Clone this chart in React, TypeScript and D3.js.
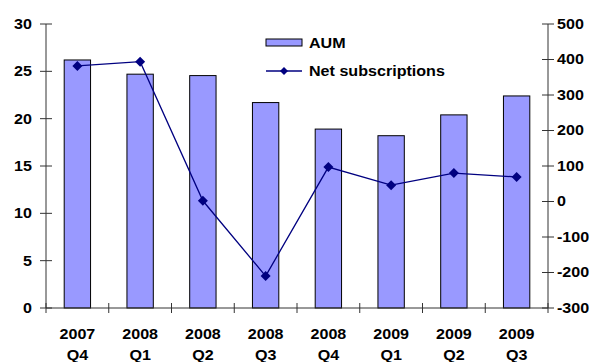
import * as React from "react"
import * as d3 from "d3"

const quarters = ["2007|Q4", "2008|Q1", "2008|Q2", "2008|Q3", "2008|Q4", "2009|Q1", "2009|Q2", "2009|Q3"]
const aum = [26.2, 24.7, 24.55, 21.7, 18.9, 18.2, 20.4, 22.4]
const netSubs = [382, 394, 2, -210, 97, 46, 80, 69]
const leftTicks = [0, 5, 10, 15, 20, 25, 30]
const rightTicks = [-300, -200, -100, 0, 100, 200, 300, 400, 500]

const W = 596
const H = 362
const margin = { top: 24, right: 48, bottom: 54, left: 46 }
const font = "'Liberation Sans', Arial, sans-serif"
const SX = 1.15

// bold label, stretched a bit horizontally like the original
function Label({ x, y, anchor = "start", children }: { x: number; y: number; anchor?: string; children: React.ReactNode }) {
  return (
    <text
      transform={`translate(${x},${y}) scale(${SX},1)`}
      dy="0.35em"
      textAnchor={anchor}
      fontSize={14}
      fontWeight="bold"
    >
      {children}
    </text>
  )
}

export default function App() {
  const x = d3.scaleBand<string>().domain(quarters).range([margin.left, W - margin.right]).paddingInner(0).paddingOuter(0)
  const yL = d3.scaleLinear().domain([0, 30]).range([H - margin.bottom, margin.top])
  const yR = d3.scaleLinear().domain([-300, 500]).range([H - margin.bottom, margin.top])
  const barW = x.bandwidth() * 0.42
  const cx = (q: string) => (x(q) ?? 0) + x.bandwidth() / 2

  const line = d3
    .line<number>()
    .x((_, i) => cx(quarters[i]))
    .y((d) => yR(d))

  const diamond = (px: number, py: number, r = 5) =>
    `M${px},${py - r}L${px + r},${py}L${px},${py + r}L${px - r},${py}Z`

  const x0 = margin.left
  const x1 = W - margin.right
  const yBase = H - margin.bottom
  const axisColor = "#333"

  return (
    <svg width={W} height={H} style={{ position: "absolute", left: 0, top: 0, fontFamily: font }}>
      <rect width={W} height={H} fill="#fff" />
      {/* bars */}
      {quarters.map((q, i) => (
        <rect
          key={q}
          x={cx(q) - barW / 2}
          y={yL(aum[i])}
          width={barW}
          height={yBase - yL(aum[i])}
          fill="#9999ff"
          stroke="#000"
          strokeWidth={1}
        />
      ))}
      {/* left axis */}
      <line x1={x0} x2={x0} y1={margin.top} y2={yBase} stroke={axisColor} />
      {leftTicks.map((t) => (
        <g key={t}>
          <line x1={x0 - 6} x2={x0 + 6} y1={yL(t)} y2={yL(t)} stroke={axisColor} />
          <Label x={x0 - 14} y={yL(t)} anchor="end">{t}</Label>
        </g>
      ))}
      {/* right axis */}
      <line x1={x1} x2={x1} y1={margin.top} y2={yBase} stroke={axisColor} />
      {rightTicks.map((t) => (
        <g key={t}>
          <line x1={x1 - 6} x2={x1 + 6} y1={yR(t)} y2={yR(t)} stroke={axisColor} />
          <Label x={x1 + 9} y={yR(t)}>{t}</Label>
        </g>
      ))}
      {/* bottom axis */}
      <line x1={x0} x2={x1} y1={yBase} y2={yBase} stroke={axisColor} />
      {quarters.map((q) => (
        <line key={"t" + q} x1={x(q) ?? 0} x2={x(q) ?? 0} y1={yBase - 5} y2={yBase + 5} stroke={axisColor} />
      ))}
      <line x1={x1} x2={x1} y1={yBase - 5} y2={yBase + 5} stroke={axisColor} />
      {quarters.map((q) => {
        const [yr, qt] = q.split("|")
        return (
          <g key={"l" + q}>
            <Label x={cx(q)} y={yBase + 26} anchor="middle">{yr}</Label>
            <Label x={cx(q)} y={yBase + 47} anchor="middle">{qt}</Label>
          </g>
        )
      })}
      {/* line series */}
      <path d={line(netSubs) ?? ""} fill="none" stroke="#000080" strokeWidth={1.3} />
      {netSubs.map((v, i) => (
        <path key={"m" + i} d={diamond(cx(quarters[i]), yR(v))} fill="#000080" />
      ))}
      {/* legend */}
      <rect x={266} y={39} width={36} height={7} fill="#9999ff" stroke="#000" />
      <Label x={309} y={43}>AUM</Label>
      <line x1={266} x2={302} y1={71} y2={71} stroke="#000080" strokeWidth={1.3} />
      <path d={diamond(284, 71, 4)} fill="#000080" />
      <Label x={309} y={71}>Net subscriptions</Label>
    </svg>
  )
}
